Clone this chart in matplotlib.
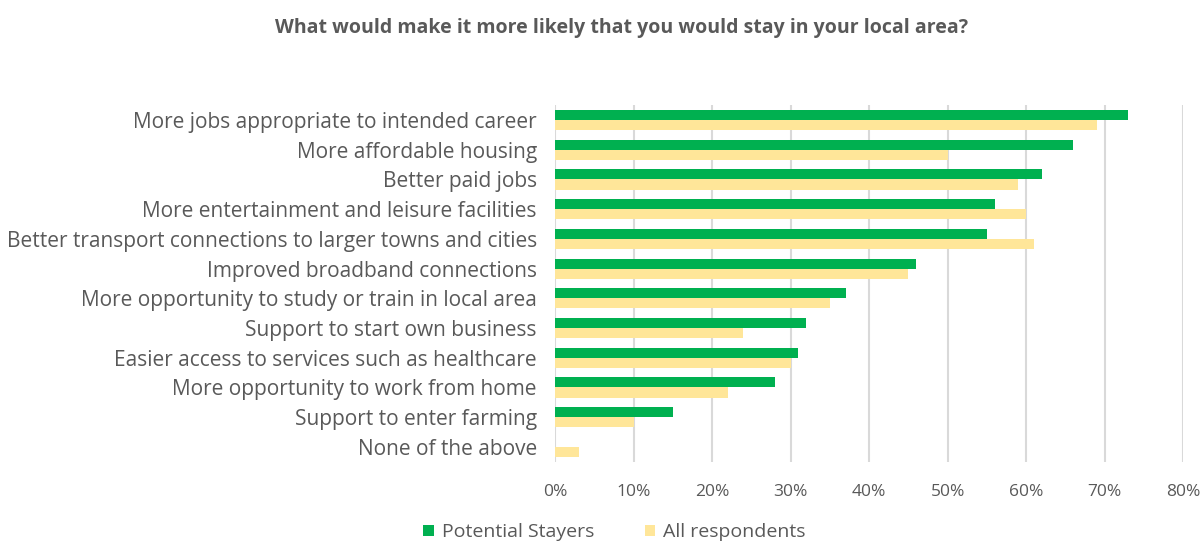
import matplotlib
matplotlib.use('Agg')
import matplotlib.pyplot as plt
from matplotlib.ticker import PercentFormatter
import numpy as np

# ---- data ----
categories = ['More jobs appropriate to intended career',
              'More affordable housing',
              'Better paid jobs',
              'More entertainment and leisure facilities',
              'Better transport connections to larger towns and cities',
              'Improved broadband connections',
              'More opportunity to study or train in local area',
              'Support to start own business',
              'Easier access to services such as healthcare',
              'More opportunity to work from home',
              'Support to enter farming',
              'None of the above']
stayers = [73, 66, 62, 56, 55, 46, 37, 32, 31, 28, 15, 0]
all_resp = [69, 50, 59, 60, 61, 45, 35, 24, 30, 22, 10, 3]
series_names = ['Potential Stayers', 'All respondents']

# ---- style ----
plt.rcParams['font.family'] = ['Open Sans', 'DejaVu Sans']
txt = '#595959'
green = '#00B050'
yellow = '#FFE699'

fig = plt.figure(figsize=(12, 5.42), dpi=100)
ax = fig.add_axes([0.4625, 0.148, 0.5235, 0.658])

y = np.arange(len(categories))
h = 0.34
ax.barh(y - h/2, stayers, height=h, color=green, label=series_names[0], zorder=3)
ax.barh(y + h/2, all_resp, height=h, color=yellow, label=series_names[1], zorder=3)

ax.set_ylim(len(categories) - 0.5, -0.5)
ax.set_xlim(0, 80)
ax.set_xticks(np.arange(0, 81, 10))
ax.xaxis.set_major_formatter(PercentFormatter(decimals=0))
ax.set_yticks(y)
ax.set_yticklabels(categories, fontsize=15, color=txt)
ax.tick_params(axis='x', labelsize=12.5, colors=txt, length=0, pad=16)
ax.tick_params(axis='y', length=0, pad=13)
ax.grid(axis='x', color='#d9d9d9', linewidth=1.5, zorder=0)
for s in ax.spines.values():
    s.set_visible(False)

fig.text(0.518, 0.948, 'What would make it more likely that you would stay in your local area?',
         ha='center', va='center', fontsize=14, fontweight='bold', color=txt)

fig.legend(loc='center', bbox_to_anchor=(0.512, 0.018), ncol=2, frameon=False,
           fontsize=14, labelcolor=txt, handlelength=0.55, handleheight=0.55,
           columnspacing=2.6, handletextpad=0.4)

fig.savefig('out.png', dpi=100)
